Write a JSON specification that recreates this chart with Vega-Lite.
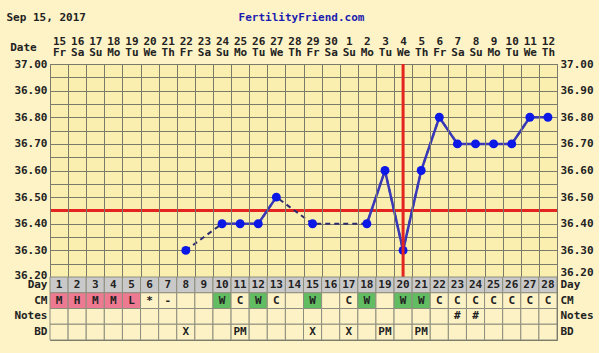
{
  "$schema": "https://vega.github.io/schema/vega-lite/v6.json",
  "background": "#fdf3c7",
  "padding": {"left": 5, "top": 10, "right": 5, "bottom": 14},
  "bounds": "flush",
  "spacing": 0,
  "datasets": {
    "days": [
      {"cd": 1, "date": "15", "dow": "Fr", "temp": null, "run": null, "ov": false, "CM": "M", "Notes": "", "BD": ""},
      {"cd": 2, "date": "16", "dow": "Sa", "temp": null, "run": null, "ov": false, "CM": "H", "Notes": "", "BD": ""},
      {"cd": 3, "date": "17", "dow": "Su", "temp": null, "run": null, "ov": false, "CM": "M", "Notes": "", "BD": ""},
      {"cd": 4, "date": "18", "dow": "Mo", "temp": null, "run": null, "ov": false, "CM": "M", "Notes": "", "BD": ""},
      {"cd": 5, "date": "19", "dow": "Tu", "temp": null, "run": null, "ov": false, "CM": "L", "Notes": "", "BD": ""},
      {"cd": 6, "date": "20", "dow": "We", "temp": null, "run": null, "ov": false, "CM": "*", "Notes": "", "BD": ""},
      {"cd": 7, "date": "21", "dow": "Th", "temp": null, "run": null, "ov": false, "CM": "-", "Notes": "", "BD": ""},
      {"cd": 8, "date": "22", "dow": "Fr", "temp": 36.3, "run": null, "ov": false, "CM": "", "Notes": "", "BD": "X"},
      {"cd": 9, "date": "23", "dow": "Sa", "temp": null, "run": null, "ov": false, "CM": "", "Notes": "", "BD": ""},
      {"cd": 10, "date": "24", "dow": "Su", "temp": 36.4, "run": "a", "ov": false, "CM": "W", "Notes": "", "BD": ""},
      {"cd": 11, "date": "25", "dow": "Mo", "temp": 36.4, "run": "a", "ov": false, "CM": "C", "Notes": "", "BD": "PM"},
      {"cd": 12, "date": "26", "dow": "Tu", "temp": 36.4, "run": "a", "ov": false, "CM": "W", "Notes": "", "BD": ""},
      {"cd": 13, "date": "27", "dow": "We", "temp": 36.5, "run": "a", "ov": false, "CM": "C", "Notes": "", "BD": ""},
      {"cd": 14, "date": "28", "dow": "Th", "temp": null, "run": null, "ov": false, "CM": "", "Notes": "", "BD": ""},
      {"cd": 15, "date": "29", "dow": "Fr", "temp": 36.4, "run": null, "ov": false, "CM": "W", "Notes": "", "BD": "X"},
      {"cd": 16, "date": "30", "dow": "Sa", "temp": null, "run": null, "ov": false, "CM": "", "Notes": "", "BD": ""},
      {"cd": 17, "date": "1", "dow": "Su", "temp": null, "run": null, "ov": false, "CM": "C", "Notes": "", "BD": "X"},
      {"cd": 18, "date": "2", "dow": "Mo", "temp": 36.4, "run": "b", "ov": false, "CM": "W", "Notes": "", "BD": ""},
      {"cd": 19, "date": "3", "dow": "Tu", "temp": 36.6, "run": "b", "ov": false, "CM": "", "Notes": "", "BD": "PM"},
      {"cd": 20, "date": "4", "dow": "We", "temp": 36.3, "run": "b", "ov": true, "CM": "W", "Notes": "", "BD": ""},
      {"cd": 21, "date": "5", "dow": "Th", "temp": 36.6, "run": "b", "ov": false, "CM": "W", "Notes": "", "BD": "PM"},
      {"cd": 22, "date": "6", "dow": "Fr", "temp": 36.8, "run": "b", "ov": false, "CM": "C", "Notes": "", "BD": ""},
      {"cd": 23, "date": "7", "dow": "Sa", "temp": 36.7, "run": "b", "ov": false, "CM": "C", "Notes": "#", "BD": ""},
      {"cd": 24, "date": "8", "dow": "Su", "temp": 36.7, "run": "b", "ov": false, "CM": "C", "Notes": "#", "BD": ""},
      {"cd": 25, "date": "9", "dow": "Mo", "temp": 36.7, "run": "b", "ov": false, "CM": "C", "Notes": "", "BD": ""},
      {"cd": 26, "date": "10", "dow": "Tu", "temp": 36.7, "run": "b", "ov": false, "CM": "C", "Notes": "", "BD": ""},
      {"cd": 27, "date": "11", "dow": "We", "temp": 36.8, "run": "b", "ov": false, "CM": "C", "Notes": "", "BD": ""},
      {"cd": 28, "date": "12", "dow": "Th", "temp": 36.8, "run": "b", "ov": false, "CM": "C", "Notes": "", "BD": ""}
    ],
    "coverline": [{"temp": 36.45}]
  },
  "vconcat": [
    {
      "width": 507,
      "height": 213,
      "data": {"name": "days"},
      "transform": [{"calculate": "datum.date + '|' + datum.dow", "as": "hdr"}],
      "layer": [
        {
          "mark": {"type": "rect", "fill": "#fbefb0", "opacity": 0},
          "encoding": {
            "x": {
              "field": "hdr", "type": "ordinal", "sort": {"field": "cd", "op": "min"},
              "scale": {"paddingInner": 0, "paddingOuter": 0},
              "axis": {
                "orient": "top", "title": "FertilityFriend.com", "titleX": 251, "titleY": -47,
                "titleAlign": "center", "titleBaseline": "middle", "titleColor": "#1c1cb0",
                "labelExpr": "split(datum.label, '|')", "labelAngle": 0, "labelLineHeight": 11,
                "labelPadding": 18, "grid": true, "tickBand": "extent"
              }
            },
            "y": {
              "datum": 37, "type": "quantitative",
              "scale": {"domain": [36.2, 37], "nice": false, "zero": false},
              "axis": {
                "orient": "left", "title": "Date", "titleAngle": 0, "titleX": -27, "titleY": -17,
                "titleAlign": "center", "titleBaseline": "middle", "tickCount": 16,
                "labelExpr": "abs(datum.value*10 - round(datum.value*10)) < 0.001 ? format(datum.value, '.2f') : ''",
                "labelOffset": {"condition": {"test": "datum.value < 36.21", "value": -2}, "value": 0},
                "labelOverlap": false, "labelPadding": 3, "grid": true
              }
            },
            "y2": {"datum": 36.2}
          }
        },
        {
          "data": {"name": "coverline"},
          "mark": {"type": "rule", "color": "#e3241f", "strokeWidth": 3},
          "encoding": {
            "y": {"field": "temp", "type": "quantitative", "scale": {"domain": [36.2, 37], "nice": false, "zero": false}, "axis": null}
          }
        },
        {
          "transform": [{"filter": "isValid(datum.temp)"}],
          "mark": {"type": "line", "color": "#2c2c6e", "strokeWidth": 2, "strokeDash": [5, 4]},
          "encoding": {
            "x": {"field": "hdr", "type": "ordinal", "sort": {"field": "cd", "op": "min"}},
            "y": {"field": "temp", "type": "quantitative", "scale": {"domain": [36.2, 37], "nice": false, "zero": false}, "axis": null},
            "order": {"field": "cd", "type": "quantitative"}
          }
        },
        {
          "transform": [{"filter": "isValid(datum.temp) && isValid(datum.run)"}],
          "mark": {"type": "line", "color": "#3838b8", "strokeWidth": 2.5},
          "encoding": {
            "x": {"field": "hdr", "type": "ordinal", "sort": {"field": "cd", "op": "min"}},
            "y": {"field": "temp", "type": "quantitative", "scale": {"domain": [36.2, 37], "nice": false, "zero": false}, "axis": null},
            "detail": {"field": "run"},
            "order": {"field": "cd", "type": "quantitative"}
          }
        },
        {
          "transform": [{"filter": "isValid(datum.temp)"}],
          "mark": {"type": "point", "filled": true, "size": 80, "color": "#0c18e6", "opacity": 1},
          "encoding": {
            "x": {"field": "hdr", "type": "ordinal", "sort": {"field": "cd", "op": "min"}},
            "y": {
              "field": "temp", "type": "quantitative",
              "scale": {"domain": [36.2, 37], "nice": false, "zero": false},
              "axis": {
                "orient": "right", "title": "Sep 15, 2017", "titleAngle": 0, "titleX": -551, "titleY": -47,
                "titleAlign": "left", "titleBaseline": "middle", "tickCount": 16,
                "labelExpr": "abs(datum.value*10 - round(datum.value*10)) < 0.001 ? format(datum.value, '.2f') : ''",
                "labelBaseline": {"condition": {"test": "datum.value < 36.21", "value": "bottom"}, "value": "middle"},
                "labelOverlap": false, "labelPadding": 3, "grid": false
              }
            }
          }
        },
        {
          "transform": [{"filter": "datum.ov"}],
          "mark": {"type": "rule", "color": "#e3241f", "strokeWidth": 3},
          "encoding": {
            "x": {"field": "hdr", "type": "ordinal", "sort": {"field": "cd", "op": "min"}}
          }
        }
      ],
      "resolve": {"axis": {"y": "independent"}}
    },
    {
      "width": 507,
      "height": 63,
      "data": {"name": "days"},
      "transform": [
        {"calculate": "'' + datum.cd", "as": "Day"},
        {"fold": ["Day", "CM", "Notes", "BD"], "as": ["row", "val"]},
        {"calculate": "datum.row == 'Day' ? 'day' : (datum.row == 'CM' && indexof(['M','H','L'], datum.val) >= 0 ? 'flow' : (datum.row == 'CM' && datum.val == 'W' ? 'wet' : 'plain'))", "as": "cell"}
      ],
      "encoding": {
        "x": {"field": "cd", "type": "ordinal", "scale": {"paddingInner": 0, "paddingOuter": 0}, "axis": null}
      },
      "layer": [
        {
          "mark": {"type": "rect", "stroke": "#8e8e7e", "strokeWidth": 1},
          "encoding": {
            "y": {"field": "row", "type": "ordinal", "sort": ["Day", "CM", "Notes", "BD"], "scale": {"paddingInner": 0, "paddingOuter": 0}, "axis": {"orient": "left", "title": null, "labelPadding": 3}},
            "fill": {"field": "cell", "type": "nominal", "scale": {"domain": ["day", "flow", "wet", "plain"], "range": ["#c9c9c9", "#ee7a92", "#62bd62", "#fdf2c6"]}, "legend": null}
          }
        },
        {
          "mark": {"type": "text", "font": "DejaVu Sans Mono", "fontSize": 11, "fontWeight": "bold", "color": "#222222"},
          "encoding": {
            "y": {"field": "row", "type": "ordinal", "sort": ["Day", "CM", "Notes", "BD"], "scale": {"paddingInner": 0, "paddingOuter": 0}, "axis": {"orient": "right", "title": null, "labelPadding": 3}},
            "text": {"field": "val"}
          }
        }
      ],
      "resolve": {"axis": {"y": "independent"}}
    }
  ],
  "config": {
    "view": {"stroke": "#6a6a5a", "strokeWidth": 1, "fill": "#fbefb0"},
    "axis": {
      "labelFont": "DejaVu Sans Mono", "labelFontSize": 11, "labelFontWeight": "bold", "labelColor": "#222222",
      "titleFont": "DejaVu Sans Mono", "titleFontSize": 11, "titleFontWeight": "bold", "titleColor": "#222222",
      "gridColor": "#7b7b6c", "gridOpacity": 1, "gridWidth": 1, "domain": false, "ticks": false
    }
  }
}
